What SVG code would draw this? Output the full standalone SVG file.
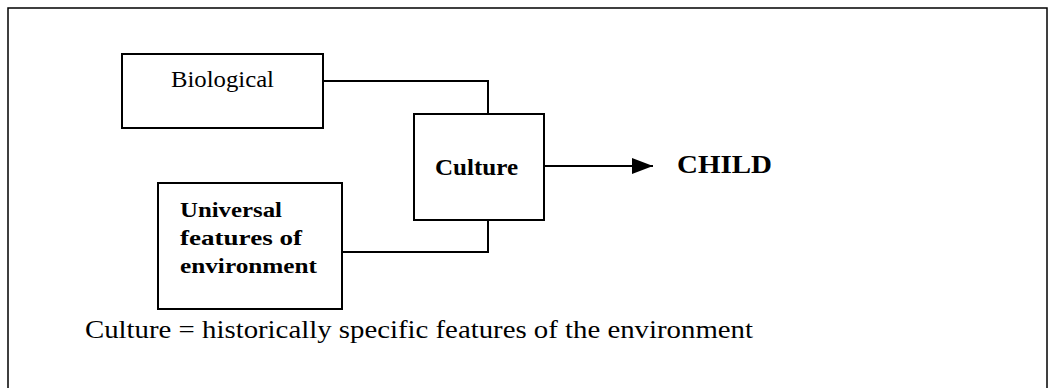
<svg xmlns="http://www.w3.org/2000/svg" width="1050" height="388" viewBox="0 0 1050 388">
  <style>
    .box { fill: #fff; stroke: #000; stroke-width: 2; }
    .con { fill: none; stroke: #000; stroke-width: 2; }
    .reg { font-family: "Liberation Serif", "Times New Roman", serif; fill: #000; }
    .bold { font-family: "Liberation Serif", "Times New Roman", serif; font-weight: bold; fill: #000; }
  </style>
  <defs>
    <marker id="arrow" viewBox="0 0 21 16" refX="21" refY="8" markerWidth="21" markerHeight="16" markerUnits="userSpaceOnUse" orient="auto">
      <polygon points="0,0 21,8 0,16" fill="#000"/>
    </marker>
  </defs>
  <rect width="1050" height="388" fill="#fff"/>
  <rect x="8" y="8" width="1039" height="400" fill="none" stroke="#000" stroke-width="1.5"/>

  <g id="connectors">
    <polyline class="con" points="323,81 488,81 488,114"/>
    <polyline class="con" points="342,252 488,252 488,220"/>
    <line class="con" x1="544" y1="166" x2="653" y2="166" marker-end="url(#arrow)"/>
  </g>

  <g id="biological">
    <rect class="box" x="122" y="54" width="201" height="74"/>
    <text class="reg" x="171" y="87" font-size="23" textLength="103" lengthAdjust="spacingAndGlyphs">Biological</text>
  </g>

  <g id="culture">
    <rect class="box" x="414" y="114" width="130" height="106"/>
    <text class="bold" x="435" y="175" font-size="23" textLength="83" lengthAdjust="spacingAndGlyphs">Culture</text>
  </g>

  <g id="universal">
    <rect class="box" x="158" y="183" width="184" height="126"/>
    <text class="bold" x="180" y="217" font-size="21" textLength="102" lengthAdjust="spacingAndGlyphs">Universal</text>
    <text class="bold" x="180" y="245" font-size="21" textLength="122" lengthAdjust="spacingAndGlyphs">features of</text>
    <text class="bold" x="180" y="273" font-size="21" textLength="137" lengthAdjust="spacingAndGlyphs">environment</text>
  </g>

  <g id="child">
    <text class="bold" x="677" y="173" font-size="26" textLength="95" lengthAdjust="spacingAndGlyphs">CHILD</text>
  </g>

  <g id="caption">
    <text class="reg" x="85" y="338" font-size="25" textLength="668" lengthAdjust="spacingAndGlyphs">Culture = historically specific features of the environment</text>
  </g>
</svg>
